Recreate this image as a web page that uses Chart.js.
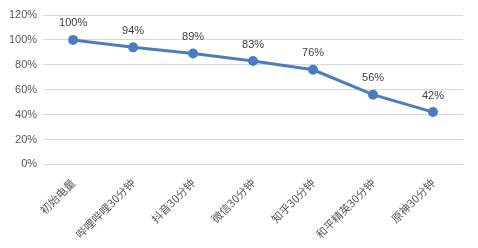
<!DOCTYPE html>
<html lang="zh">
<head>
    <meta charset="UTF-8">
    <title>电量变化</title>
    <script src="https://cdn.jsdelivr.net/npm/chart.js"></script>
    <style>
        html, body { margin: 0; padding: 0; background: #fff; }
        #wrap { width: 478px; height: 248px; }
    </style>
</head>
<body>
    <div id="wrap"><canvas id="batteryChart" width="478" height="248"></canvas></div>

    <script type="text/javascript">
        // categories and values
        var categories = ['初始电量', '哔哩哔哩30分钟', '抖音30分钟', '微信30分钟', '知乎30分钟', '和平精英30分钟', '原神30分钟'];
        var batteryLeft = [100, 94, 89, 83, 76, 56, 42];
        var yTicks = [0, 20, 40, 60, 80, 100, 120];

        var fontFamily = '"Liberation Sans", "Noto Sans CJK SC", sans-serif';
        var cjkFont = '"Noto Sans CJK SC", "Liberation Sans", sans-serif';

        // draws the value above each point
        var valueLabels = {
            id: 'valueLabels',
            afterDatasetsDraw: function(chart) {
                var ctx = chart.ctx;
                var meta = chart.getDatasetMeta(0);
                ctx.save();
                ctx.font = '11px ' + fontFamily;
                ctx.fillStyle = '#404040';
                ctx.textAlign = 'center';
                ctx.textBaseline = 'bottom';
                meta.data.forEach(function(pt, i) {
                    ctx.fillText(batteryLeft[i] + '%', pt.x, pt.y - 11);
                });
                ctx.restore();
            }
        };

        var ctx = document.getElementById('batteryChart').getContext('2d');
        new Chart(ctx, {
            type: 'line',
            data: {
                labels: categories,
                datasets: [{
                    data: batteryLeft,
                    borderColor: '#4a7dbf',
                    backgroundColor: '#4a7dbf',
                    borderWidth: 3,
                    pointRadius: 3.5,
                    pointHoverRadius: 3.5,
                    tension: 0
                }]
            },
            options: {
                responsive: false,
                animation: false,
                layout: { padding: { top: 15, right: 15, left: 3, bottom: 3 } },
                plugins: {
                    legend: { display: false },
                    tooltip: { enabled: false }
                },
                scales: {
                    x: {
                        offset: true,
                        grid: { display: false },
                        border: { display: false },
                        ticks: {
                            minRotation: 45,
                            maxRotation: 45,
                            padding: 4,
                            color: '#595959',
                            font: { family: cjkFont, size: 11 },
                            autoSkip: false
                        }
                    },
                    y: {
                        min: yTicks[0],
                        max: yTicks[yTicks.length - 1],
                        afterBuildTicks: function(axis) {
                            axis.ticks = yTicks.map(function(v) { return { value: v }; });
                        },
                        grid: { color: '#d9d9d9', drawTicks: false },
                        border: { display: false },
                        ticks: {
                            padding: 6,
                            color: '#595959',
                            font: { family: fontFamily, size: 11 },
                            callback: function(v) { return v + '%'; }
                        }
                    }
                }
            },
            plugins: [valueLabels]
        });
    </script>
</body>
</html>
